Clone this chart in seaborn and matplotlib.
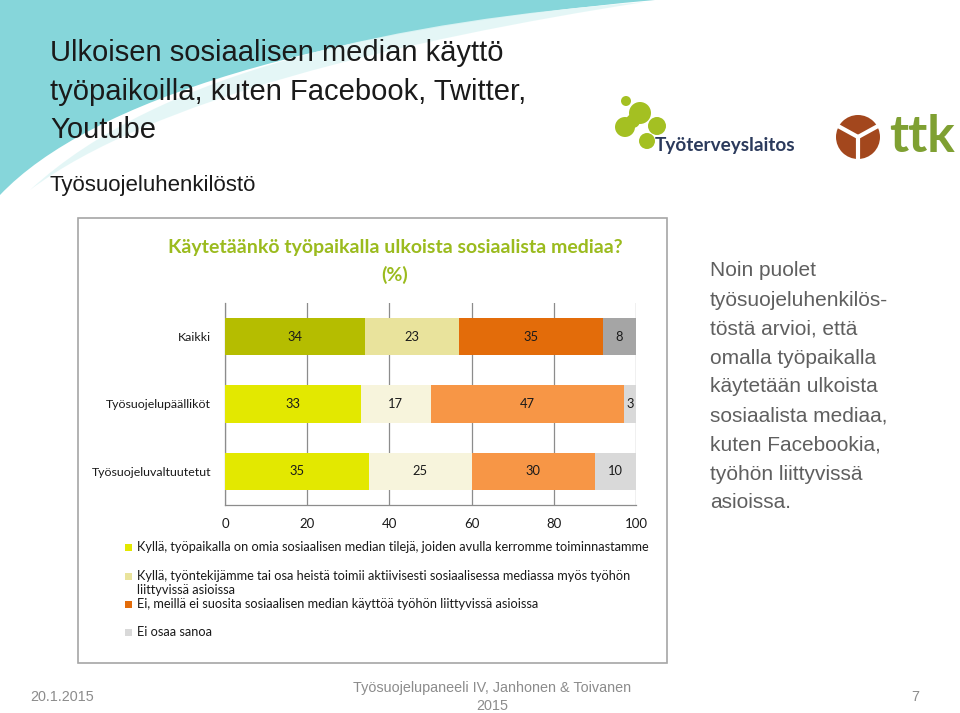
import numpy as np
import pandas as pd
import matplotlib
matplotlib.use("Agg")
import matplotlib.pyplot as plt
import seaborn as sns
from matplotlib.patches import Rectangle, PathPatch, Circle
from matplotlib.path import Path

# ---------------- data ----------------
groups = ["Kaikki", "Työsuojelupäälliköt", "Työsuojeluvaltuutetut"]
own_accounts = [34, 33, 35]
employees_active = [23, 17, 25]
not_encouraged = [35, 47, 30]
cant_say = [8, 3, 10]
series_values = [own_accounts, employees_active, not_encouraged, cant_say]
series_labels = [
    ["Kyllä, työpaikalla on omia sosiaalisen median tilejä, joiden avulla kerromme toiminnastamme"],
    ["Kyllä, työntekijämme tai osa heistä toimii aktiivisesti sosiaalisessa mediassa myös työhön",
     "liittyvissä asioissa"],
    ["Ei, meillä ei suosita sosiaalisen median käyttöä työhön liittyvissä asioissa"],
    ["Ei osaa sanoa"],
]
xticks = [0, 20, 40, 60, 80, 100]

# colours: per series, per group (Kaikki darker tones)
series_colors = [
    ["#b5bd00", "#e3e800", "#e3e800"],
    ["#e9e39c", "#f7f4dc", "#f7f4dc"],
    ["#e36c0a", "#f79646", "#f79646"],
    ["#a5a5a5", "#d9d9d9", "#d9d9d9"],
]
legend_colors = ["#e3e800", "#e9e39c", "#e36c0a", "#d9d9d9"]

W, H = 960, 713
fig = plt.figure(figsize=(W / 100, H / 100), dpi=100)
fig.patch.set_facecolor("white")


def fx(x):
    return x / W


def fy(y):
    return 1 - y / H


def pin(x, y):
    # pixel (y down) -> inches for dpi_scale_trans
    return (x / 100, (H - y) / 100)


# ---------------- background swoosh ----------------
verts = [(0, 0), (655, 0), (320, 30), (90, 100), (0, 195), (0, 0)]
codes = [Path.MOVETO, Path.LINETO, Path.CURVE4, Path.CURVE4, Path.CURVE4, Path.CLOSEPOLY]
verts = [(fx(a), fy(b)) for a, b in verts]
fig.patches.append(PathPatch(Path(verts, codes), transform=fig.transFigure,
                             facecolor="#86d6da", edgecolor="none", zorder=-2))
lv = [(30, 190), (150, 100), (400, 40), (645, 2),
      (400, 20), (160, 70), (30, 190)]
lc = [Path.MOVETO, Path.CURVE4, Path.CURVE4, Path.CURVE4,
      Path.CURVE4, Path.CURVE4, Path.CURVE4]
fig.patches.append(PathPatch(Path([(fx(a), fy(b)) for a, b in lv], lc),
                             transform=fig.transFigure, facecolor="#e2f6f6",
                             edgecolor="none", alpha=0.9, zorder=-1.5))

# ---------------- slide titles ----------------
title_font = "Liberation Sans"
for txt, y in zip(["Ulkoisen sosiaalisen median käyttö",
                   "työpaikoilla, kuten Facebook, Twitter,",
                   "Youtube"], [53, 92, 130]):
    fig.text(fx(50), fy(y), txt, fontsize=21, family=title_font, color="#1a1a1a",
             ha="left", va="center")
fig.text(fx(50), fy(185), "Työsuojeluhenkilöstö", fontsize=16, family=title_font,
         color="#1a1a1a", ha="left", va="center")

# ---------------- logos (approximation) ----------------
for (cx, cy, r) in [(626, 101, 5), (640, 113, 11), (625, 127, 10), (657, 126, 9),
                    (647, 141, 8), (633, 121, 7)]:
    fig.patches.append(Circle(pin(cx, cy), r / 100, transform=fig.dpi_scale_trans,
                              facecolor="#a4c022", edgecolor="none"))
fig.text(fx(655), fy(145), "Työterveyslaitos", fontsize=13.7, family="Lato",
         weight="bold", color="#2b3a5c", ha="left", va="center")
fig.patches.append(Circle(pin(858, 137), 22 / 100, transform=fig.dpi_scale_trans,
                          facecolor="#a3471d", edgecolor="none"))
for (ex, ey) in [(858, 160), (838, 126), (878, 126)]:
    fig.lines.append(plt.Line2D([fx(858), fx(ex)], [fy(137), fy(ey)],
                                transform=fig.transFigure, color="white", lw=3))
fig.text(fx(889), fy(137), "ttk", fontsize=37, family="Lato", weight="bold",
         color="#7fa032", ha="left", va="center")

# ---------------- chart box ----------------
fig.patches.append(Rectangle((fx(78), fy(663)), fx(667) - fx(78), fy(218) - fy(663),
                             transform=fig.transFigure, facecolor="white",
                             edgecolor="#a6a6a6", lw=1.2, zorder=-1))

fig.text(fx(395), fy(247), "Käytetäänkö työpaikalla ulkoista sosiaalista mediaa?",
         fontsize=14, family="Lato", weight="bold", color="#9bbb1e",
         ha="center", va="center")
fig.text(fx(395), fy(275), "(%)", fontsize=14, family="Lato", weight="bold",
         color="#9bbb1e", ha="center", va="center")

# ---------------- bar chart ----------------
ax = fig.add_axes([fx(225), fy(505), fx(636) - fx(225), fy(303) - fy(505)])
ax.set_facecolor("none")

cums = np.cumsum(np.array(series_values), axis=0)
for i in range(len(series_values) - 1, -1, -1):
    df = pd.DataFrame({"group": groups, "value": cums[i]})
    pal = dict(zip(groups, series_colors[i]))
    sns.barplot(data=df, x="value", y="group", hue="group", palette=pal,
                order=groups, hue_order=groups, orient="h", width=0.555,
                saturation=1, legend=False, edgecolor="none", ax=ax, zorder=3)

starts = cums - np.array(series_values)
for i, vals in enumerate(series_values):
    for j, v in enumerate(vals):
        ax.text(starts[i][j] + v / 2, j, str(v), ha="center", va="center",
                fontsize=9.3, family="Lato", color="#1a1a1a", zorder=5)

ax.set_xlim(0, 100)
ax.set_ylim(2.5, -0.5)
ax.set_xticks(xticks)
ax.set_xticklabels([str(t) for t in xticks], fontsize=9.5, family="Lato")
ax.set_xlabel("")
ax.set_ylabel("")
ax.tick_params(axis="x", length=0, pad=9, colors="#1a1a1a")
ax.tick_params(axis="y", length=0, pad=10, labelsize=8.9, colors="#1a1a1a")
for lab in ax.get_yticklabels():
    lab.set_family("Lato")
ax.grid(axis="x", color="#8c8c8c", lw=0.9, zorder=0)
ax.set_axisbelow(True)
for s in ["top", "right"]:
    ax.spines[s].set_visible(False)
for s in ["left", "bottom"]:
    ax.spines[s].set_color("#8c8c8c")
    ax.spines[s].set_linewidth(0.9)

# ---------------- legend ----------------
leg_rows = [547, 576, 604, 632]
for color, lines, y0 in zip(legend_colors, series_labels, leg_rows):
    fig.patches.append(Rectangle((fx(125), fy(y0 + 3.5)), 7 / W, 7 / H,
                                 transform=fig.transFigure, facecolor=color,
                                 edgecolor="none", zorder=2))
    for k, line in enumerate(lines):
        fig.text(fx(137), fy(y0 + 14 * k), line, fontsize=9.2, family="Lato",
                 color="#1a1a1a", ha="left", va="center")

# ---------------- right text ----------------
side = ["Noin puolet", "työsuojeluhenkilös-", "töstä arvioi, että",
        "omalla työpaikalla", "käytetään ulkoista", "sosiaalista mediaa,",
        "kuten Facebookia,", "työhön liittyvissä", "asioissa."]
for k, line in enumerate(side):
    fig.text(fx(710), fy(271 + 29 * k), line, fontsize=15, family=title_font,
             color="#5f5f5f", ha="left", va="center")

# ---------------- footer ----------------
fc = "#8c8c8c"
fig.text(fx(30), fy(697), "20.1.2015", fontsize=10.4, family=title_font, color=fc,
         ha="left", va="center")
fig.text(fx(492), fy(688), "Työsuojelupaneeli IV, Janhonen & Toivanen", fontsize=10.4,
         family=title_font, color=fc, ha="center", va="center")
fig.text(fx(492), fy(706), "2015", fontsize=10.4, family=title_font, color=fc,
         ha="center", va="center")
fig.text(fx(915), fy(697), "7", fontsize=10.4, family=title_font, color=fc,
         ha="center", va="center")

fig.savefig("out.png", dpi=100, facecolor="white")
